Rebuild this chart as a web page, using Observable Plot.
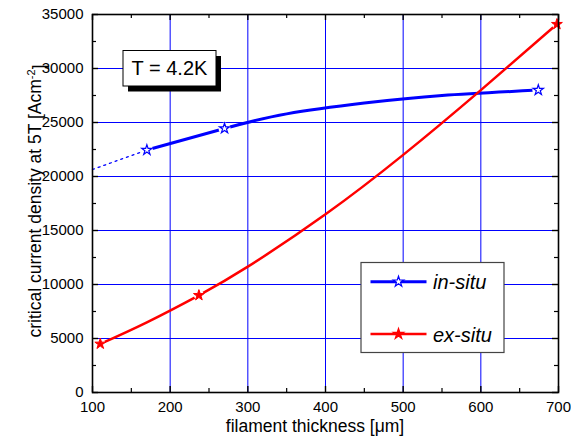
<!DOCTYPE html>
<html><head><meta charset="utf-8">
<script src="https://cdn.jsdelivr.net/npm/d3@7"></script>
<script src="https://cdn.jsdelivr.net/npm/@observablehq/plot@0.6"></script>
<style>body{margin:0;background:#fff;}</style>
</head><body><div id="chart"></div>
<script>
// in-situ fitted curve (solid) and its extrapolation (dotted)
const inSituX = [170, 270, 350, 450, 550, 674];
const inSituY = [22450, 24450, 25800, 26800, 27500, 28000];
const inSituExtX = [100, 170];
const inSituExtY = [20650, 22450];
const inSituPtX = [170, 270, 674];
const inSituPtY = [22450, 24450, 28000];
// ex-situ fitted curve and points
const exSituX = [110, 170, 237, 300, 400, 500, 600, 698];
const exSituY = [4500, 6500, 9000, 11650, 16500, 22000, 28000, 34100];
const exSituPtX = [110, 237, 698];
const exSituPtY = [4500, 9000, 34100];
// ticks
const xMajor = [100, 200, 300, 400, 500, 600, 700];
const xMinor = [150, 250, 350, 450, 550, 650];
const yMajor = [0, 5000, 10000, 15000, 20000, 25000, 30000, 35000];
const yMinor = [2500, 7500, 12500, 17500, 22500, 27500, 32500];
const xGrid = [200, 300, 400, 500, 600];
const yGrid = [5000, 10000, 15000, 20000, 25000, 30000];

const zip = (xs, ys) => xs.map((x, i) => ({x, y: ys[i]}));
const inSitu = zip(inSituX, inSituY), inSituExt = zip(inSituExtX, inSituExtY), inSituPts = zip(inSituPtX, inSituPtY);
const exSitu = zip(exSituX, exSituY), exSituPts = zip(exSituPtX, exSituPtY);

const W = 571, H = 440, mL = 92, mR = 13, mT = 14, mB = 48;
const iH = H - mT - mB, iW = W - mL - mR;
const BLUE = "#0000ff", RED = "#ff0000";
const FONT = "Liberation Sans, Arial, Helvetica, sans-serif";

const plot = Plot.plot({
  width: W, height: H, marginLeft: mL, marginRight: mR, marginTop: mT, marginBottom: mB,
  style: {fontFamily: FONT, fontSize: "15px", color: "black", background: "white"},
  x: {domain: [100, 700]},
  y: {domain: [0, 35000]},
  marks: [
    Plot.ruleX(xGrid, {stroke: BLUE, strokeWidth: 1}),
    Plot.ruleY(yGrid, {stroke: BLUE, strokeWidth: 1}),
    Plot.line(inSituExt, {x: "x", y: "y", stroke: BLUE, strokeWidth: 1.3, strokeDasharray: "2,4"}),
    Plot.line(inSitu, {x: "x", y: "y", curve: "natural", stroke: BLUE, strokeWidth: 3}),
    Plot.line(exSitu, {x: "x", y: "y", curve: "natural", stroke: RED, strokeWidth: 2.5}),
    Plot.dot(inSituPts, {x: "x", y: "y", r: 6, fill: "white", stroke: null}),
    Plot.dot(exSituPts, {x: "x", y: "y", r: 5, fill: "white", stroke: null}),
    Plot.dot(inSituPts, {x: "x", y: "y", symbol: "star", r: 3.2, fill: "white", stroke: BLUE, strokeWidth: 1.2}),
    Plot.dot(exSituPts, {x: "x", y: "y", symbol: "star", r: 3.4, fill: RED, stroke: RED, strokeWidth: 1}),
    // inward ticks
    Plot.tickX(xMajor, {x: d => d, insetTop: iH - 6, stroke: "black", strokeWidth: 1.4}),
    Plot.tickX(xMajor, {x: d => d, insetBottom: iH - 6, stroke: "black", strokeWidth: 1.4}),
    Plot.tickX(xMinor, {x: d => d, insetTop: iH - 4, stroke: "black", strokeWidth: 1.2}),
    Plot.tickX(xMinor, {x: d => d, insetBottom: iH - 4, stroke: "black", strokeWidth: 1.2}),
    Plot.tickY(yMajor, {y: d => d, insetRight: iW - 6, stroke: "black", strokeWidth: 1.4}),
    Plot.tickY(yMajor, {y: d => d, insetLeft: iW - 6, stroke: "black", strokeWidth: 1.4}),
    Plot.tickY(yMinor, {y: d => d, insetRight: iW - 4, stroke: "black", strokeWidth: 1.2}),
    Plot.tickY(yMinor, {y: d => d, insetLeft: iW - 4, stroke: "black", strokeWidth: 1.2}),
    Plot.frame({stroke: "black", strokeWidth: 1.6}),
    Plot.axisX(xMajor, {tickSize: 0, tickPadding: 9, fontSize: 15, label: null}),
    Plot.axisY(yMajor, {tickSize: 0, tickPadding: 9, fontSize: 15, label: null, tickFormat: d3.format("d")})
  ]
});
document.getElementById("chart").appendChild(plot);

const svg = d3.select(plot);
// axis titles
svg.append("text").attr("x", 315).attr("y", 432).attr("text-anchor", "middle")
  .attr("font-family", FONT).attr("font-size", 17.5).attr("fill", "black")
  .text("filament thickness [\u03bcm]");
const yt = svg.append("text").attr("transform", "translate(41,201) rotate(-90)").attr("text-anchor", "middle")
  .attr("font-family", FONT).attr("font-size", 17.5).attr("fill", "black");
yt.append("tspan").text("critical current density at 5T [Acm");
yt.append("tspan").attr("dy", "-0.55em").attr("font-size", 11).text("-2");
yt.append("tspan").attr("dy", "0.55em").text("]");

// T = 4.2K annotation box with shadow
const tb = svg.append("g");
tb.append("rect").attr("x", 128).attr("y", 56).attr("width", 93).attr("height", 35.5).attr("fill", "black");
tb.append("rect").attr("x", 123).attr("y", 50.5).attr("width", 93).attr("height", 35.5)
  .attr("fill", "white").attr("stroke", "black").attr("stroke-width", 1);
tb.append("text").attr("x", 169.5).attr("y", 75).attr("text-anchor", "middle")
  .attr("font-family", FONT).attr("font-size", 20).attr("fill", "black").text("T = 4.2K");

// legend
const lg = svg.append("g");
lg.append("rect").attr("x", 361).attr("y", 262.5).attr("width", 143).attr("height", 90)
  .attr("fill", "white").attr("stroke", "#444").attr("stroke-width", 1.2);
const entries = [
  {label: "in-situ", color: BLUE, y: 281.7, fill: "white", sw: 3},
  {label: "ex-situ", color: RED, y: 334, fill: RED, sw: 2.5}
];
for (const e of entries) {
  lg.append("line").attr("x1", 370.5).attr("x2", 426.5).attr("y1", e.y).attr("y2", e.y)
    .attr("stroke", e.color).attr("stroke-width", e.sw);
  lg.append("path").attr("d", d3.symbol(d3.symbolStar, Math.PI * 3.3 * 3.3)())
    .attr("transform", `translate(398.5,${e.y})`).attr("fill", e.fill).attr("stroke", e.color).attr("stroke-width", 1.2);
  lg.append("text").attr("x", 433).attr("y", e.y + 7.5).attr("text-anchor", "start")
    .attr("font-family", FONT).attr("font-style", "italic")
    .attr("font-size", 20).attr("fill", "black").text(e.label);
}
</script></body></html>
